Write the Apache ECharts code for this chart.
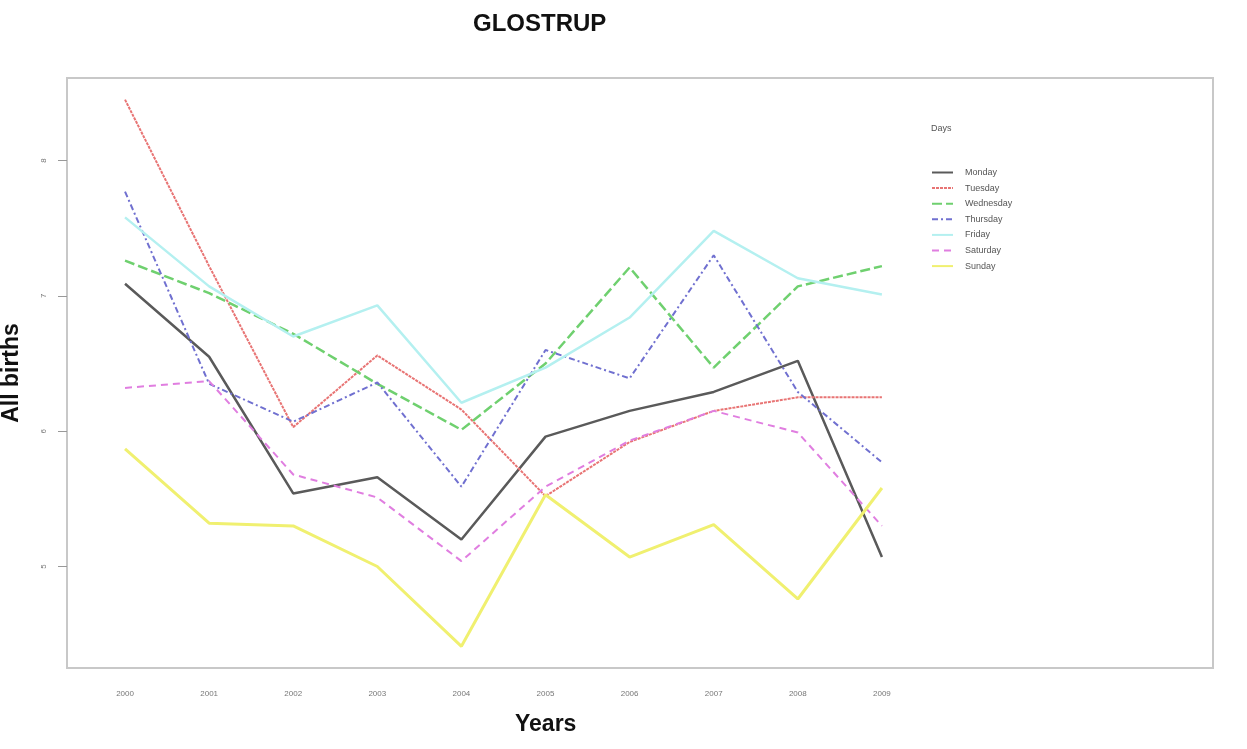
<!DOCTYPE html>
<html>
<head>
<meta charset="utf-8">
<script src="https://cdn.jsdelivr.net/npm/echarts@6/dist/echarts.min.js"></script>
<style>
html,body{margin:0;padding:0;background:#fff;}
#chart{width:1247px;height:749px;}
</style>
</head>
<body>
<div id="chart"></div>
<script>
var years = [2000, 2001, 2002, 2003, 2004, 2005, 2006, 2007, 2008, 2009];
var yTicks = [5, 6, 7, 8];
var days = ['Monday', 'Tuesday', 'Wednesday', 'Thursday', 'Friday', 'Saturday', 'Sunday'];
var monday    = [7.09, 6.55, 5.54, 5.66, 5.20, 5.96, 6.15, 6.29, 6.52, 5.07];
var tuesday   = [8.45, 7.22, 6.03, 6.56, 6.16, 5.52, 5.92, 6.15, 6.25, 6.25];
var wednesday = [7.26, 7.02, 6.72, 6.35, 6.01, 6.50, 7.21, 6.47, 7.07, 7.22];
var thursday  = [7.77, 6.35, 6.07, 6.36, 5.59, 6.60, 6.39, 7.30, 6.29, 5.77];
var friday    = [7.58, 7.07, 6.70, 6.93, 6.21, 6.47, 6.84, 7.48, 7.13, 7.01];
var saturday  = [6.32, 6.37, 5.68, 5.51, 5.04, 5.59, 5.93, 6.15, 5.99, 5.30];
var sunday    = [5.87, 5.32, 5.30, 5.00, 4.41, 5.53, 5.07, 5.31, 4.76, 5.58];

var values = [monday, tuesday, wednesday, thursday, friday, saturday, sunday];
var styles = [
  {color: '#5a5a5a', width: 2.5, type: 'solid'},
  {color: '#e87474', width: 2, type: [3, 1]},
  {color: '#6fd06f', width: 2.5, type: [10, 4]},
  {color: '#7070d0', width: 2, type: [6, 3, 2, 3]},
  {color: '#b4f0f0', width: 2.5, type: 'solid'},
  {color: '#e07ee0', width: 2, type: [7, 5]},
  {color: '#f0f070', width: 3, type: 'solid'}
];
var FONT = '"Liberation Sans", Arial, sans-serif';

var series = days.map(function (d, k) {
  return {
    name: d,
    type: 'line',
    symbol: 'none',
    data: years.map(function (y, i) { return [y, values[k][i]]; }),
    lineStyle: styles[k],
    itemStyle: {color: styles[k].color},
    z: 2
  };
});

var chart = echarts.init(document.getElementById('chart'), null, {renderer: 'canvas'});
chart.setOption({
  backgroundColor: '#ffffff',
  animation: false,
  title: [
    {text: 'GLOSTRUP', left: 468, top: 7, textStyle: {fontFamily: FONT, fontSize: 24, fontWeight: 'bold', color: '#111'}},
    {text: 'Years', left: 510, top: 708, textStyle: {fontFamily: FONT, fontSize: 23, fontWeight: 'bold', color: '#111'}},
    {text: 'Days', left: 926, top: 119, textStyle: {fontFamily: FONT, fontSize: 9, fontWeight: 'normal', color: '#555'}}
  ],
  legend: {
    orient: 'vertical',
    left: 926,
    top: 162,
    itemWidth: 21,
    itemHeight: 11,
    itemGap: 4.6,
    data: days,
    itemStyle: {opacity: 0},
    textStyle: {fontFamily: FONT, fontSize: 9, color: '#555', lineHeight: 11, padding: [0, 0, 0, 7]}
  },
  grid: {
    left: 67, right: 34, top: 78, bottom: 81,
    outerBoundsMode: 'none',
    containLabel: false,
    show: true, borderColor: '#c8c8c8', borderWidth: 2, backgroundColor: '#fff'
  },
  xAxis: {
    type: 'value',
    min: 1999.31,
    max: 2012.937,
    axisLine: {show: false},
    splitLine: {show: false},
    axisTick: {show: false},
    axisLabel: {
      customValues: years,
      fontFamily: FONT, fontSize: 8, color: '#777', margin: 22,
      formatter: function (v) { return String(v); }
    }
  },
  yAxis: {
    type: 'value',
    min: 4.25,
    max: 8.61,
    name: 'All births',
    nameLocation: 'middle',
    nameRotate: 90,
    nameGap: 44,
    nameTextStyle: {fontFamily: FONT, fontSize: 23, fontWeight: 'bold', color: '#111'},
    axisLine: {show: false},
    splitLine: {show: false},
    axisTick: {show: true, customValues: yTicks, length: 9, lineStyle: {color: '#999', width: 1}},
    axisLabel: {
      customValues: yTicks,
      rotate: 90,
      fontFamily: FONT, fontSize: 8, color: '#777', margin: 19
    }
  },
  series: series
});
</script>
</body>
</html>
